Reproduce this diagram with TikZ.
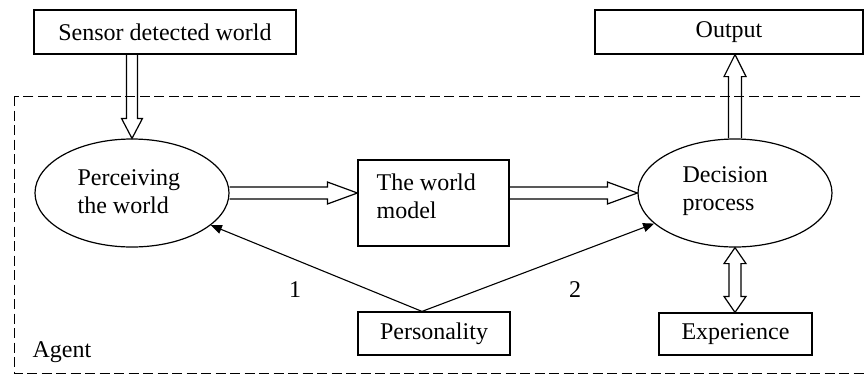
\documentclass[tikz,border=0pt]{standalone}
\usepackage{fontspec}
\setmainfont{Liberation Serif}
\usetikzlibrary{calc,arrows.meta,shapes.geometric}

% hollow block arrow: start, tip, half shaft width, half head width, head length
\newcommand\blockarrow[5]{%
  \coordinate (ba-h) at ($(#2)!#5!(#1)$);
  \draw ($(#1)!#3!90:(#2)$) -- ($(ba-h)!#3!90:(#2)$) -- ($(ba-h)!#4!90:(#2)$)
    -- (#2) -- ($(ba-h)!#4!-90:(#2)$) -- ($(ba-h)!#3!-90:(#2)$) -- ($(#1)!#3!-90:(#2)$);
}
% hollow block arrow with a head at each end
\newcommand\dblblockarrow[5]{%
  \coordinate (da-a) at ($(#2)!#5!(#1)$);
  \coordinate (da-b) at ($(#1)!#5!(#2)$);
  \draw ($(da-b)!#3!90:(#2)$) -- ($(da-a)!#3!90:(#2)$) -- ($(da-a)!#4!90:(#2)$)
    -- (#2) -- ($(da-a)!#4!-90:(#2)$) -- ($(da-a)!#3!-90:(#2)$)
    -- ($(da-b)!#3!-90:(#2)$) -- ($(da-b)!#4!-90:(#2)$) -- (#1)
    -- ($(da-b)!#4!90:(#2)$) -- cycle;
}

\begin{document}
\begin{tikzpicture}[x=1pt, y=-1pt, line width=1.2pt, line join=miter,
  lbl/.style={inner sep=0pt, font=\fontsize{24}{28}\selectfont, align=left},
  box/.style={draw, rectangle, inner sep=0pt, font=\fontsize{24}{28}\selectfont},
  oval/.style={draw, ellipse, inner sep=0pt, minimum width=194pt, minimum height=108pt},
  link/.style={-{Triangle[length=11pt, width=9pt]}, line width=1.1pt}]
\useasboundingbox (0,0) rectangle (865,376);

% agent boundary
\draw[line width=1pt, dash pattern=on 10pt off 4.5pt] (14,96) rectangle (885,373);
\node[lbl, anchor=west] (agent) at (32,352) {Agent};

% boxes
\node[box, minimum width=262pt, minimum height=44pt] (sensor) at (165,32) {Sensor detected world};
\node[box, minimum width=268pt, minimum height=44pt] (out) at (729,32) {Output};
\node[box, minimum width=151pt, minimum height=86pt] (world) at (433.5,203) {};
\node[lbl, anchor=west] (worldtext) at (376,196) {The world\\model};
\node[box, minimum width=152pt, minimum height=43pt] (pers) at (434,333.5) {Personality};
\node[box, minimum width=153pt, minimum height=42pt] (exp) at (735.5,334) {Experience};

% ellipses
\node[oval] (pw) at (132,193) {};
\node[lbl, anchor=west] (pwtext) at (77,192) {Perceiving\\the world};
\node[oval] (dp) at (735,193) {};
\node[lbl, anchor=west] (dptext) at (682,191) {Decision\\process};

% block arrows
\coordinate (s1) at (sensor.south -| pw.north);
\blockarrow{s1}{pw.north}{5.5pt}{10.5pt}{20pt}
\coordinate (w1) at (world.west |- pw.east);
\blockarrow{pw.east}{w1}{6pt}{11pt}{30pt}
\coordinate (w2) at (world.east |- dp.west);
\blockarrow{w2}{dp.west}{6pt}{11pt}{30pt}
\coordinate (o1) at (dp.north |- out.south);
\blockarrow{dp.north}{o1}{6.5pt}{11pt}{22pt}
\coordinate (e1) at (dp.south |- exp.north);
\dblblockarrow{dp.south}{e1}{6pt}{11pt}{16pt}

% personality influences
\coordinate (pk) at ($(pers.north)+(-12,0)$);
\draw[link] (pk) -- (pw);
\draw[link] (pk) -- (dp);
\node[lbl] (n1) at (295,290) {1};
\node[lbl] (n2) at (575,290) {2};
\end{tikzpicture}
\end{document}
